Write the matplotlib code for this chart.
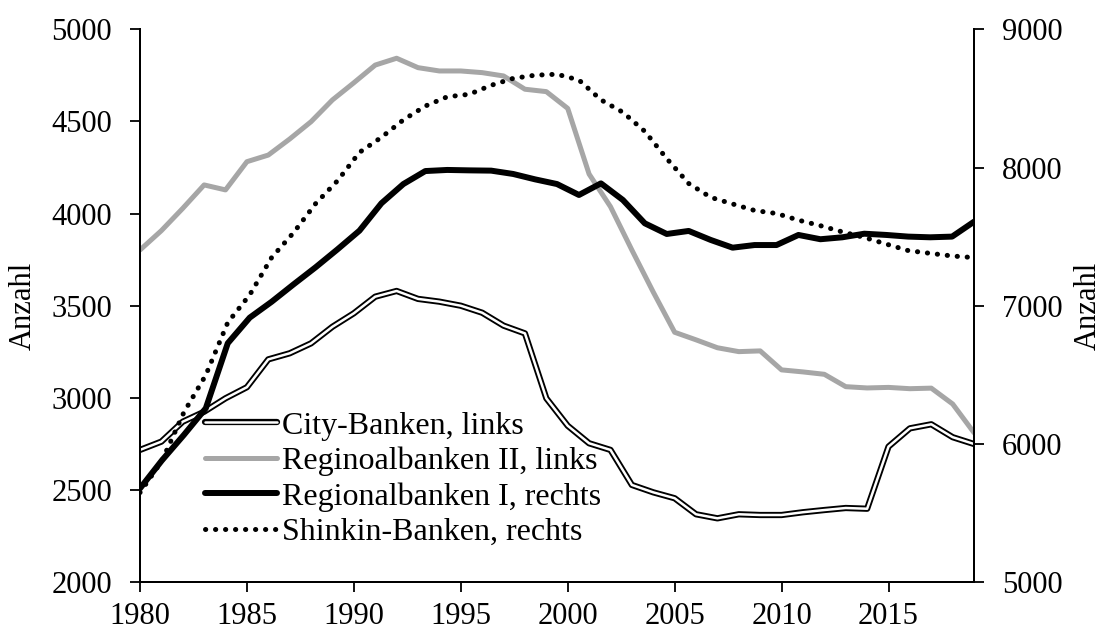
import numpy as np
import matplotlib
matplotlib.use("Agg")
import matplotlib.pyplot as plt
from matplotlib.legend_handler import HandlerTuple

plt.rcParams['font.family'] = ['Liberation Serif', 'DejaVu Serif']
plt.rcParams['font.size'] = 22

# left axis series, 1980-2019
years_left = np.arange(1980, 2020)
city = [2719, 2764, 2872, 2926, 2999, 3059, 3210, 3243, 3297, 3387,
        3460, 3550, 3581, 3538, 3523, 3501, 3463, 3393, 3351, 2999,
        2850, 2755, 2719, 2529, 2489, 2457, 2370, 2348, 2370, 2366,
        2366, 2381, 2393, 2404, 2400, 2737, 2836, 2858, 2788, 2751]
regio2 = [3803, 3908, 4029, 4156, 4129, 4282, 4318, 4405, 4499, 4617,
          4710, 4806, 4843, 4792, 4774, 4774, 4765, 4747, 4675, 4662,
          4571, 4215, 4038, 3803, 3575, 3357, 3316, 3273, 3252, 3256,
          3153, 3142, 3129, 3062, 3055, 3058, 3051, 3054, 2968, 2812]

# right axis series, 39 points (own category axis spread over the full width)
years_right = np.arange(1980, 2019)
regio1 = [5680, 5883, 6067, 6260, 6730, 6915, 7030, 7156, 7279, 7409,
          7544, 7742, 7881, 7975, 7983, 7980, 7978, 7954, 7915, 7881,
          7802, 7886, 7766, 7597, 7520, 7542, 7477, 7421, 7440, 7440,
          7513, 7482, 7496, 7522, 7513, 7501, 7496, 7501, 7609]
shinkin = [5650, 5880, 6230, 6500, 6880, 7080, 7350, 7530, 7739, 7905,
           8110, 8219, 8345, 8445, 8512, 8530, 8595, 8645, 8668, 8675,
           8633, 8490, 8400, 8262, 8065, 7885, 7785, 7737, 7690, 7668,
           7620, 7580, 7535, 7495, 7447, 7400, 7380, 7361, 7349]

fig = plt.figure(figsize=(11.03, 6.30), dpi=100)
ax = fig.add_axes([0.1269, 0.0754, 0.8831 - 0.1269, 0.9535 - 0.0754])

gray_h, = ax.plot(years_left, regio2, color='#a6a6a6', lw=3.6, solid_capstyle='round',
                  solid_joinstyle='round', zorder=2)
city_outer, = ax.plot(years_left, city, color='black', lw=4.5, solid_capstyle='round',
                      solid_joinstyle='round', zorder=3)
city_inner, = ax.plot(years_left, city, color='white', lw=1.8, solid_capstyle='round',
                      solid_joinstyle='round', zorder=4)
ax.set_xlim(1980, 2019)
ax.set_ylim(2000, 5000)
ax.set_xticks(range(1980, 2020, 5))
ax.set_yticks(range(2000, 5001, 500))
ax.set_ylabel('Anzahl', labelpad=10)

ax2 = ax.twinx()
ax2.set_ylim(5000, 9000)
ax2.set_yticks(range(5000, 9001, 1000))
ax2.set_ylabel('Anzahl', labelpad=8)

ax3 = ax2.twiny()
ax3.set_xlim(1980, 2018)
rb1_h, = ax3.plot(years_right, regio1, color='black', lw=4.3, solid_capstyle='round',
                  solid_joinstyle='round')
sh_h, = ax3.plot(years_right, shinkin, color='black', lw=3.6, linestyle=(0, (0.05, 1.95)),
                 dash_capstyle='round')
ax3.xaxis.set_visible(False)

for a in (ax, ax2, ax3):
    a.spines['top'].set_visible(False)
    a.tick_params(direction='out', length=7, width=1.3, pad=13)
    for s in a.spines.values():
        s.set_linewidth(1.3)
ax.tick_params(axis='x', pad=7)

leg = ax3.legend([(city_outer, city_inner), gray_h, rb1_h, sh_h],
                 ['City-Banken, links', 'Reginoalbanken II, links',
                  'Regionalbanken I, rechts', 'Shinkin-Banken, rechts'],
                 handler_map={tuple: HandlerTuple(ndivide=1)},
                 loc='lower left', bbox_to_anchor=(0.078, 0.064),
                 frameon=False, handlelength=2.25, handletextpad=0.16,
                 labelspacing=0.19, borderpad=0, borderaxespad=0, fontsize=23)

fig.savefig('out.png', dpi=100)
